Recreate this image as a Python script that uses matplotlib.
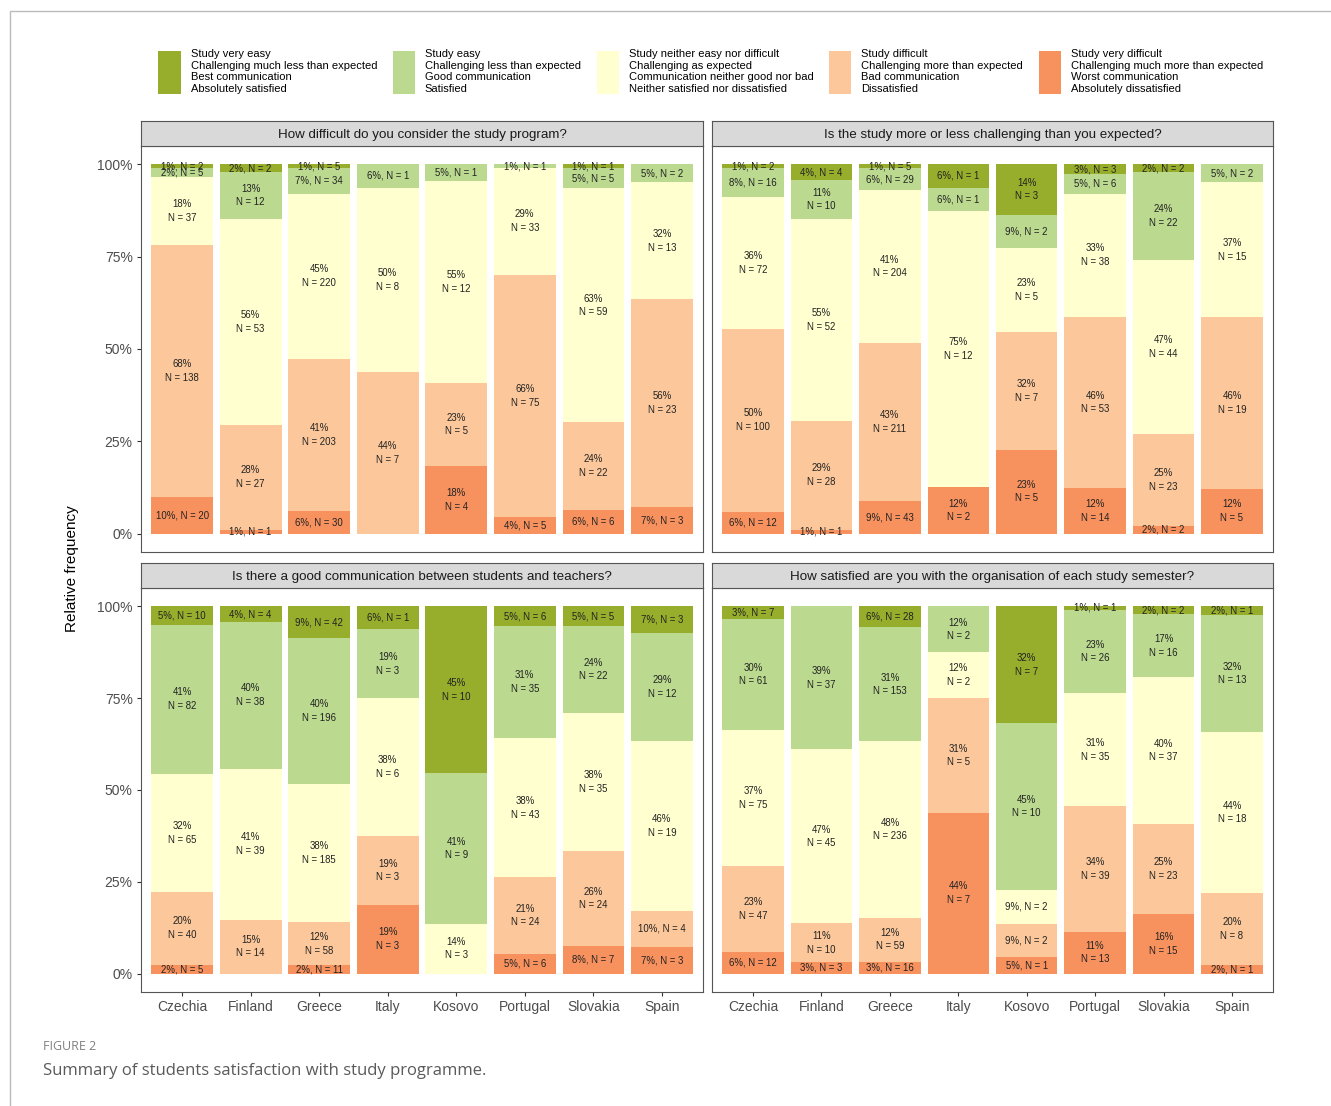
import matplotlib
matplotlib.use('Agg')
import matplotlib.pyplot as plt
from matplotlib.patches import Patch, Rectangle
import numpy as np

plt.rcParams['font.family'] = ['Liberation Sans', 'DejaVu Sans']

countries = ['Czechia', 'Finland', 'Greece', 'Italy', 'Kosovo', 'Portugal', 'Slovakia', 'Spain']

titles = ['How difficult do you consider the study program?',
          'Is the study more or less challenging than you expected?',
          'Is there a good communication between students and teachers?',
          'How satisfied are you with the organisation of each study semester?']

# counts per country, columns go from most positive answer to most negative
difficulty = [[2, 5, 37, 138, 20], [2, 12, 53, 27, 1], [5, 34, 220, 203, 30], [0, 1, 8, 7, 0],
              [0, 1, 12, 5, 4], [0, 1, 33, 75, 5], [1, 5, 59, 22, 6], [0, 2, 13, 23, 3]]
challenge = [[2, 16, 72, 100, 12], [4, 10, 52, 28, 1], [5, 29, 204, 211, 43], [1, 1, 12, 0, 2],
             [3, 2, 5, 7, 5], [3, 6, 38, 53, 14], [2, 22, 44, 23, 2], [0, 2, 15, 19, 5]]
communication = [[10, 82, 65, 40, 5], [4, 38, 39, 14, 0], [42, 196, 185, 58, 11], [1, 3, 6, 3, 3],
                 [10, 9, 3, 0, 0], [6, 35, 43, 24, 6], [5, 22, 35, 24, 7], [3, 12, 19, 4, 3]]
satisfaction = [[7, 61, 75, 47, 12], [0, 37, 45, 10, 3], [28, 153, 236, 59, 16], [0, 2, 2, 5, 7],
                [7, 10, 2, 2, 1], [1, 26, 35, 39, 13], [2, 16, 37, 23, 15], [1, 13, 18, 8, 1]]

level_labels = ['Study very easy\nChallenging much less than expected\nBest communication\nAbsolutely satisfied',
                'Study easy\nChallenging less than expected\nGood communication\nSatisfied',
                'Study neither easy nor difficult\nChallenging as expected\nCommunication neither good nor bad\nNeither satisfied nor dissatisfied',
                'Study difficult\nChallenging more than expected\nBad communication\nDissatisfied',
                'Study very difficult\nChallenging much more than expected\nWorst communication\nAbsolutely dissatisfied']
level_colors = ['#97AD2C', '#BBDA90', '#FFFFCF', '#FCC89B', '#F7925F']

W, H = 1331, 1106
fig = plt.figure(figsize=(W / 100, H / 100), dpi=100)

def frac(x0, y0, x1, y1):
    return [x0 / W, 1 - y1 / H, (x1 - x0) / W, (y1 - y0) / H]

# panel boxes in pixels
cols = [(141, 703), (712, 1273)]
rows = [(146, 552), (588, 992)]
data = [difficulty, challenge, communication, satisfaction]

for k in range(4):
    r, c = divmod(k, 2)
    x0, x1 = cols[c]
    y0, y1 = rows[r]
    ax = fig.add_axes(frac(x0, y0, x1, y1))
    strip = fig.add_axes(frac(x0, y0 - 25, x1, y0))
    strip.set_facecolor('#D9D9D9')
    strip.set_xticks([]); strip.set_yticks([])
    for s in strip.spines.values():
        s.set_color('#555555'); s.set_linewidth(0.8)
    strip.text(0.5, 0.45, titles[k], ha='center', va='center', fontsize=9.6, color='#1A1A1A',
               transform=strip.transAxes)

    counts = np.array(data[k])
    share = counts / counts.sum(axis=1, keepdims=True)
    x = np.arange(len(countries))
    bottom = np.zeros(len(countries))
    for j in range(4, -1, -1):
        ax.bar(x, share[:, j], 0.9, bottom=bottom, color=level_colors[j], linewidth=0)
        for i in range(len(countries)):
            n = counts[i, j]
            if n == 0:
                continue
            p = share[i, j]
            sep = '\n' if p >= 0.1 else ', '
            ax.text(x[i], bottom[i] + p / 2, f'{round(100 * p)}%{sep}N = {n}', ha='center', va='center',
                    fontsize=6.9, color='#222222', linespacing=1.45)
        bottom += share[:, j]

    ax.set_xlim(-0.6, len(countries) - 0.4)
    ax.set_ylim(-0.05, 1.05)
    ax.set_yticks([0, 0.25, 0.5, 0.75, 1.0])
    ax.set_yticklabels(['0%', '25%', '50%', '75%', '100%'])
    ax.set_xticks(x)
    ax.set_xticklabels(countries)
    ax.tick_params(colors='#333333', labelcolor='#4D4D4D', labelsize=10, length=3, width=0.8, pad=3)
    if c == 1:
        ax.tick_params(axis='y', left=False, labelleft=False)
    if r == 0:
        ax.tick_params(axis='x', bottom=False, labelbottom=False)
    for s in ax.spines.values():
        s.set_color('#555555'); s.set_linewidth(0.8)

fig.text(72 / W, 1 - 569 / H, 'Relative frequency', rotation=90, ha='center', va='center', fontsize=11)

handles = [Patch(facecolor=col, edgecolor='none') for col in level_colors]
leg = fig.legend(handles, level_labels, ncol=5, loc='upper center', bbox_to_anchor=(0.534, 1 - 49 / H),
                 frameon=False, fontsize=8.0, handlelength=2.0, handleheight=5.6, handletextpad=0.9,
                 columnspacing=1.4, borderpad=0, borderaxespad=0)
for t in leg.get_texts():
    t.set_linespacing(1.2)

# outer frame of the figure box
fig.add_artist(Rectangle((10 / W, -0.1), 1.2, 1 - 11 / H + 0.1, transform=fig.transFigure,
                         fill=False, edgecolor='#BBBBBB', linewidth=1.0))
fig.text(43 / W, 1 - 1047 / H, 'FIGURE 2', family='Open Sans', fontsize=9, color='#808080', va='center')
fig.text(43 / W, 1 - 1071 / H, 'Summary of students satisfaction with study programme.', family='Open Sans',
         fontsize=12, color='#5A5A5A', va='center')

fig.savefig('out.png', dpi=100)
